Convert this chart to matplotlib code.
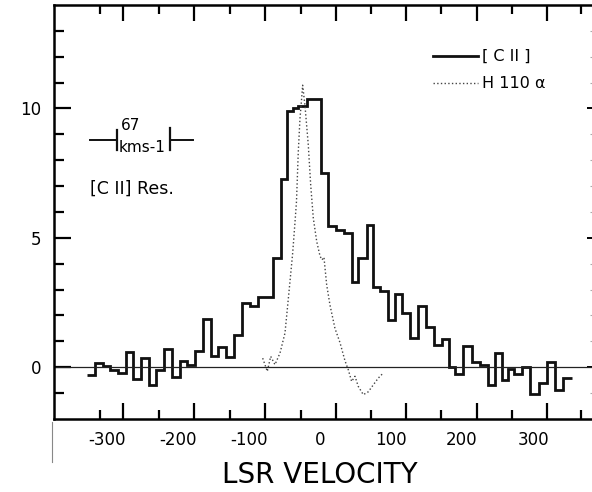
import matplotlib
matplotlib.use("Agg")
import matplotlib.pyplot as plt
from matplotlib.lines import Line2D

plt.rcParams['font.family'] = ['DejaVu Sans']
plt.rcParams['axes.unicode_minus'] = False

# [CII] spectrum, channel edges (km/s) and antenna temperature
cii_edges = [-327.7, -316.9, -306.1, -295.2, -284.4, -273.5, -262.8, -252.0, -241.1, -230.3,
             -219.4, -208.6, -197.7, -186.9, -176.1, -164.8, -153.5, -143.7, -132.4, -121.1,
             -110.3, -98.6, -86.9, -76.8, -66.6, -55.6, -46.1, -38.0, -30.3, -18.7,
             -8.9, 1.0, 11.7, 23.2, 34.5, 44.6, 53.9, 65.8, 75.1, 85.2,
             96.2, 106.3, 116.2, 126.8, 138.5, 150.0, 160.6, 171.8, 181.3, 190.8,
             201.8, 213.7, 225.4, 236.6, 245.8, 255.9, 264.1, 273.9, 284.5, 295.8,
             308.5, 319.7, 331.0, 342.3, 354.5]
cii_temp = [-0.29, 0.15, 0.03, -0.10, -0.22, 0.60, -0.45, 0.37, -0.68, -0.10,
            0.69, -0.37, 0.24, 0.10, 0.63, 1.85, 0.42, 0.80, 0.41, 1.24,
            2.48, 2.38, 2.70, 2.72, 4.24, 7.27, 9.90, 10.00, 10.10, 10.35,
            10.35, 7.50, 5.44, 5.30, 5.18, 3.28, 4.21, 5.50, 3.10, 2.93,
            1.82, 2.82, 2.09, 1.12, 2.36, 1.57, 0.87, 1.10, 0.00, -0.25,
            0.82, 0.22, 0.10, -0.68, 0.55, -0.48, -0.05, -0.25, 0.02, -1.03,
            -0.61, 0.22, -0.88, -0.40]

# H 110 alpha recombination line
h_vel = [-80.7, -74.2, -69.4, -63.4, -56.3, -49.3, -46.1, -42.3, -38.5, -35.2,
         -33.1, -30.6, -28.2, -25.8, -24.4, -21.1, -16.5, -13.1, -9.4, -4.6,
         0.0, 2.8, 5.6, 9.4, 14.1, 21.1, 28.2, 35.2, 39.9, 44.6,
         49.3, 53.9, 61.0, 68.0, 75.1, 82.1, 89.2]
h_temp = [0.35, -0.16, 0.42, 0.10, 0.55, 1.32, 2.22, 3.30, 4.40, 5.60,
          6.40, 8.30, 9.60, 10.40, 10.90, 10.10, 8.60, 7.05, 5.76, 4.86,
          4.30, 4.15, 4.25, 3.19, 2.40, 1.50, 0.95, 0.25, -0.10, -0.55,
          -0.35, -0.74, -1.06, -0.95, -0.68, -0.42, -0.22]

xtick_labels = [-300, -200, -100, 0, 100, 200, 300]
xtick_long = [-277, -178, -78, 22, 121, 221, 320]
xtick_short = [-310, -227, -127, -27, 72, 171, 270, 367]

fig = plt.figure(figsize=(5.92, 4.92), dpi=100)
ax = fig.add_axes([0.0912, 0.1484, 0.9105, 0.8415])

ax.stairs(cii_temp, cii_edges, baseline=None, color='#111111', lw=2.0)
ax.plot(h_vel, h_temp, ls=':', lw=1.0, color='#444444')
ax.axhline(0, color='#222222', lw=0.9)

ax.set_xlim(-374.6, 384.5)
ax.set_ylim(-2, 14)

for s in ['left', 'top', 'bottom']:
    ax.spines[s].set_linewidth(1.8)
ax.spines['right'].set_visible(False)

# tick marks (no labels) on the main axes
ax.set_xticks(xtick_long)
ax.set_xticks(xtick_short, minor=True)
ax.set_yticks([0, 5, 10])
ax.set_yticks([-1, 1, 2, 3, 4, 6, 7, 8, 9, 11, 12, 13], minor=True)
ax.tick_params(axis='x', which='major', direction='in', length=11.5, width=1.6,
               top=True, labelbottom=False)
ax.tick_params(axis='x', which='minor', direction='in', length=6.5, width=1.6, top=True)
ax.tick_params(axis='y', which='major', direction='in', length=12, width=1.6,
               labelsize=12, pad=9)
ax.tick_params(axis='y', which='minor', direction='in', length=7, width=1.6)

# velocity labels sit on their own axis
secx = ax.secondary_xaxis('bottom')
secx.set_xticks(xtick_labels)
secx.tick_params(length=0, labelsize=12, pad=9)
secx.spines['bottom'].set_visible(False)
secx.set_xlabel('LSR VELOCITY', fontsize=20, labelpad=8, x=0.493)

secy = ax.secondary_yaxis('right')
secy.set_yticks([0, 5, 10])
secy.set_yticks([-1, 1, 2, 3, 4, 6, 7, 8, 9, 11, 12, 13], minor=True)
secy.tick_params(which='major', direction='in', length=4, width=1.4, labelright=False)
secy.tick_params(which='minor', direction='in', length=2.5, width=0.8, color='#aaaaaa')
secy.spines['right'].set_visible(False)

# legend
handles = [Line2D([], [], color='#111111', lw=2.0),
           Line2D([], [], color='#444444', lw=1.0, ls=':')]
ax.legend(handles, ['[ C II ]', 'H 110 α'], loc='upper left',
          bbox_to_anchor=(0.703, 0.893), frameon=False, fontsize=11.5,
          handlelength=2.8, handletextpad=0.3, labelspacing=0.75,
          borderpad=0, borderaxespad=0)

# resolution marker
tr = ax.transAxes
ax.plot([0.067, 0.116], [0.674, 0.674], color='#111111', lw=1.4, transform=tr)
ax.plot([0.218, 0.258], [0.674, 0.674], color='#111111', lw=1.4, transform=tr)
ax.plot([0.116, 0.116], [0.649, 0.699], color='#111111', lw=1.6, transform=tr)
ax.plot([0.215, 0.215], [0.649, 0.702], color='#111111', lw=1.6, transform=tr)
ax.text(0.125, 0.708, '67', fontsize=11, transform=tr, ha='left', va='center')
ax.text(0.120, 0.655, 'kms-1', fontsize=11, transform=tr, ha='left', va='center')
ax.text(0.067, 0.557, '[C II] Res.', fontsize=12.5, transform=tr, ha='left', va='center')

# page edge seen under the axis
ax.plot([-0.003, -0.003], [-0.008, -0.104], color='#888888', lw=0.8,
        transform=tr, clip_on=False)

fig.savefig('out.png', dpi=100)
